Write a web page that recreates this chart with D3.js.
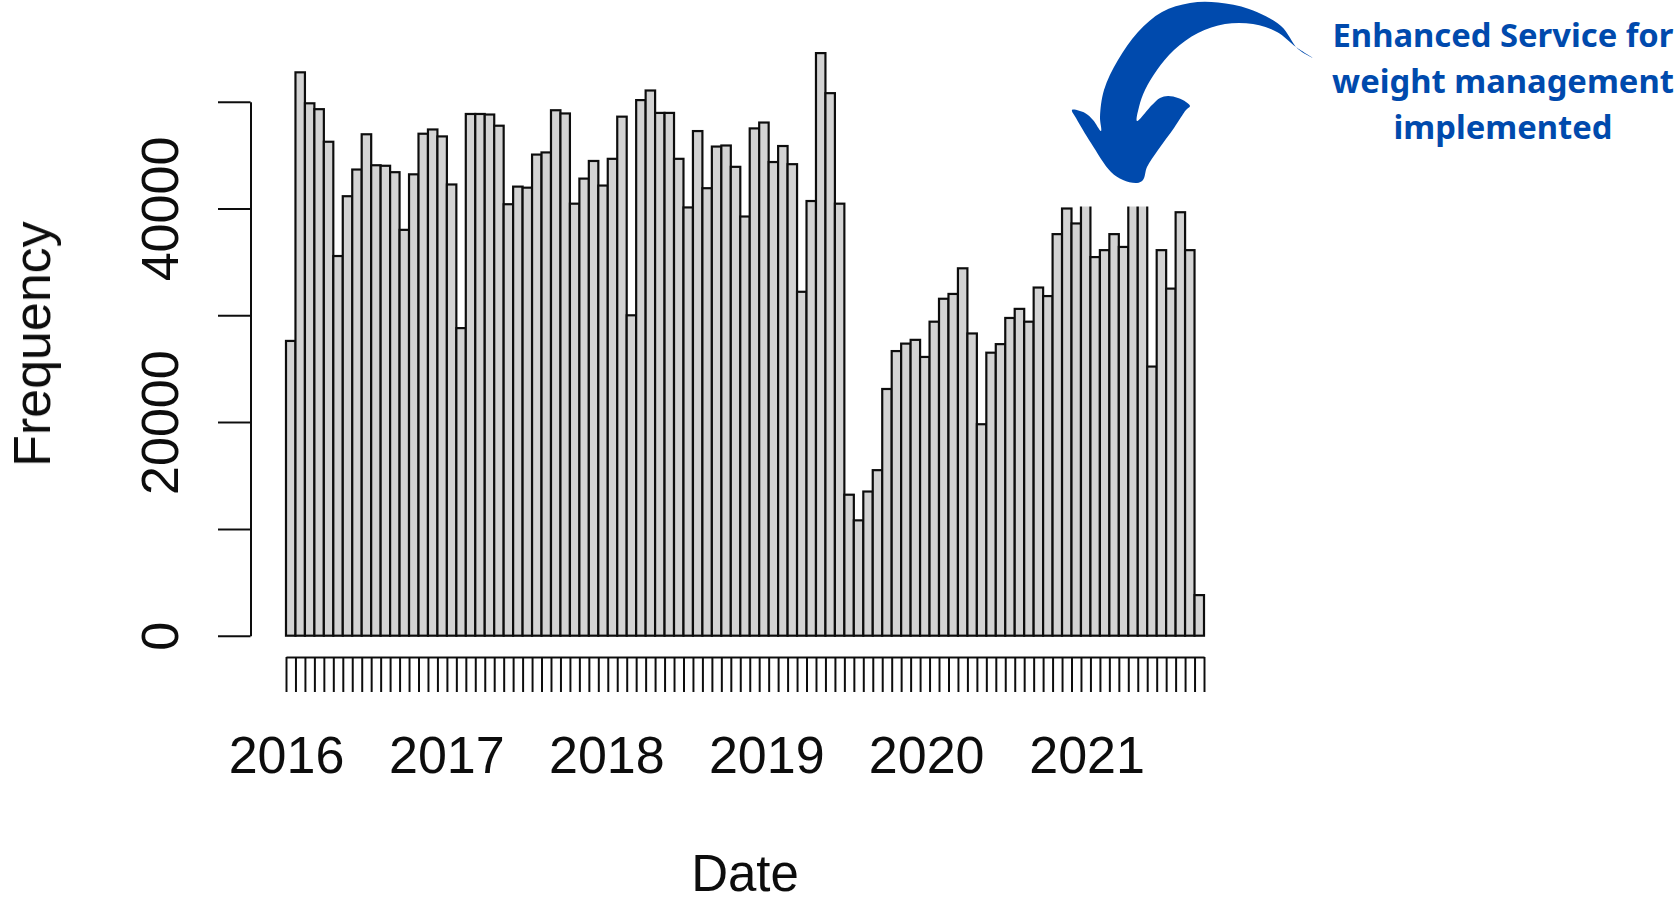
<!DOCTYPE html>
<html>
<head>
<meta charset="utf-8">
<script src="https://cdn.jsdelivr.net/npm/d3@7"></script>
<style>
  html, body { margin: 0; padding: 0; background: #fff; }
  svg { display: block; }
</style>
</head>
<body>
<svg id="chart" width="1678" height="904"></svg>
<script>
// ---- data -------------------------------------------------------------
// Equal-width date bins from binStart to binEnd, one count per bin
const binStart = "2016-01-01";
const binEnd = "2021-09-26";
const counts = [
  27600, 52750, 49850, 49300, 46250, 35550, 41150, 43650, 46950, 44050,
  44000, 43400, 38000, 43200, 47000, 47400, 46750, 42250, 28800, 48850,
  48850, 48800, 47750, 40400, 42050, 41950, 45050, 45250, 49200, 48900,
  40450, 42800, 44450, 42150, 44650, 48600, 30000, 50150, 51050, 48950,
  48950, 44650, 40100, 47250, 41900, 45800, 45900, 43900, 39250, 47500,
  48050, 44350, 45850, 44150, 32200, 40700, 54550, 50800, 40450, 13200,
  10800, 13500, 15500, 23100, 26650, 27350, 27700, 26100, 29400, 31550,
  32000, 34400, 28300, 19800, 26500, 27300, 29750, 30600, 29400, 32600,
  31800, 37600, 40000, 38600, 42500, 35450, 36100, 37600, 36400, 43000,
  41500, 25200, 36100, 32500, 39650, 36100, 3800
];
const yTicks = [0, 10000, 20000, 30000, 40000, 50000];
const yTickLabels = ["0", "", "20000", "", "40000", ""];
const yearTicks = ["2016-01-01", "2017-01-01", "2018-01-01", "2019-01-01", "2020-01-01", "2021-01-01"];
const yearLabels = ["2016", "2017", "2018", "2019", "2020", "2021"];
const xTitle = "Date";
const yTitle = "Frequency";
const noteLines = ["Enhanced Service for", "weight management", "implemented"];

// ---- layout -----------------------------------------------------------
const W = 1678, H = 904;
const plot = { left: 286, right: 1204, zero: 635.7, top50k: 101.7 };
const axisFont = '"Liberation Sans", Arial, Helvetica, sans-serif';
const axisSize = 52;
const ink = "#111";
const noteBlue = "#004aad";

const parse = d3.utcParse("%Y-%m-%d");
const t0 = parse(binStart), t1 = parse(binEnd);
const edges = d3.range(counts.length + 1)
  .map(i => new Date(+t0 + (t1 - t0) * i / counts.length));

const x = d3.scaleUtc().domain([t0, t1]).range([plot.left, plot.right]);
const y = d3.scaleLinear().domain([0, 50000]).range([plot.zero, plot.top50k]);

const svg = d3.select("#chart");
const defs = svg.append("defs");
defs.append("filter").attr("id", "soft")
  .attr("x", "-5%").attr("y", "-5%").attr("width", "110%").attr("height", "110%")
  .append("feGaussianBlur").attr("stdDeviation", 0.75);

const chart = svg.append("g").attr("filter", "url(#soft)");

// ---- bars -------------------------------------------------------------
chart.append("g")
  .selectAll("rect")
  .data(counts)
  .join("rect")
  .attr("x", (d, i) => x(edges[i]))
  .attr("width", (d, i) => x(edges[i + 1]) - x(edges[i]))
  .attr("y", d => y(d))
  .attr("height", d => y(0) - y(d))
  .attr("fill", "#d3d3d3")
  .attr("stroke", ink)
  .attr("stroke-width", 2.2);

// ---- y axis -----------------------------------------------------------
const yAxis = chart.append("g")
  .attr("transform", "translate(250.5,0)")
  .call(d3.axisLeft(y).tickValues(yTicks).tickSize(32.5).tickSizeOuter(0)
    .tickFormat((d, i) => yTickLabels[i]));
yAxis.attr("font-size", null).attr("font-family", null);
yAxis.selectAll("path, line").attr("stroke", ink).attr("stroke-width", 2);
yAxis.selectAll("text")
  .attr("transform", "rotate(-90)")
  .attr("x", 0).attr("y", -72.5).attr("dy", 0)
  .attr("text-anchor", "middle")
  .attr("fill", ink)
  .style("font-family", axisFont).style("font-size", axisSize + "px");

// ---- x axis: a tick at every bin break --------------------------------
const xAxis = chart.append("g")
  .attr("transform", "translate(0,657)")
  .call(d3.axisBottom(x).tickValues(edges).tickSize(35).tickSizeOuter(0).tickFormat(""));
xAxis.selectAll("path, line").attr("stroke", ink).attr("stroke-width", 2);

// year labels
const years = yearTicks.map(parse);
const yearAxis = chart.append("g")
  .attr("transform", "translate(0,773)")
  .call(d3.axisBottom(x).tickValues(years).tickSize(0)
    .tickFormat((d, i) => yearLabels[i]));
yearAxis.select(".domain").remove();
yearAxis.attr("font-size", null).attr("font-family", null);
yearAxis.selectAll("text")
  .attr("y", 0).attr("dy", 0)
  .attr("fill", ink)
  .style("font-family", axisFont).style("font-size", axisSize + "px");

// ---- axis titles ------------------------------------------------------
chart.append("text")
  .attr("x", (plot.left + plot.right) / 2).attr("y", 891)
  .attr("text-anchor", "middle")
  .attr("fill", ink)
  .style("font-family", axisFont).style("font-size", "51px")
  .text(xTitle);

chart.append("text")
  .attr("transform", `translate(50,${y(27300)}) rotate(-90)`)
  .attr("text-anchor", "middle")
  .attr("fill", ink)
  .style("font-family", axisFont).style("font-size", axisSize + "px")
  .text(yTitle);

// ---- annotation: white panel, curved arrow, note ----------------------
const note = svg.append("g");
note.append("rect")
  .attr("x", 1040).attr("y", 0)
  .attr("width", W - 1040).attr("height", 206.5)
  .attr("fill", "#fff");

const arrowOutline = [
  [1313, 58], [1298, 49], [1281, 26], [1249, 9], [1218, 2.5], [1190, 3],
  [1162, 12], [1138, 32], [1118, 60], [1104, 90], [1100, 117], [1101, 131],
  [1093, 120], [1085, 113], [1072, 110],
  [1076, 118], [1091, 143], [1111, 172], [1123, 180], [1137, 183],
  [1143, 180], [1147, 167], [1158, 150], [1174, 128], [1186, 110], [1190, 106],
  [1186, 102], [1178, 98], [1168, 96], [1160, 98], [1152, 105], [1137, 121],
  [1139, 107], [1145, 90], [1157, 70], [1174, 50], [1198, 33], [1225, 24],
  [1253, 24], [1277, 32], [1296, 47]
];
note.append("path")
  .attr("d", d3.line().curve(d3.curveCatmullRomClosed.alpha(0.5))(arrowOutline))
  .attr("fill", noteBlue);

const noteText = note.append("g")
  .style("font-family", '"Noto Sans", "Open Sans", sans-serif')
  .style("font-weight", 700)
  .attr("fill", noteBlue)
  .attr("text-anchor", "middle");
const noteSel = noteText.selectAll("text")
  .data(noteLines)
  .join("text")
  .attr("x", 1503)
  .attr("y", (d, i) => 47 + i * 46)
  .style("font-size", "30px")
  .text(d => d);
// size the note so its first line spans the panel width
const firstW = noteSel.node().getComputedTextLength();
const fitSize = 30 * 341 / firstW;
noteSel.style("font-size", fitSize + "px");
</script>
</body>
</html>
